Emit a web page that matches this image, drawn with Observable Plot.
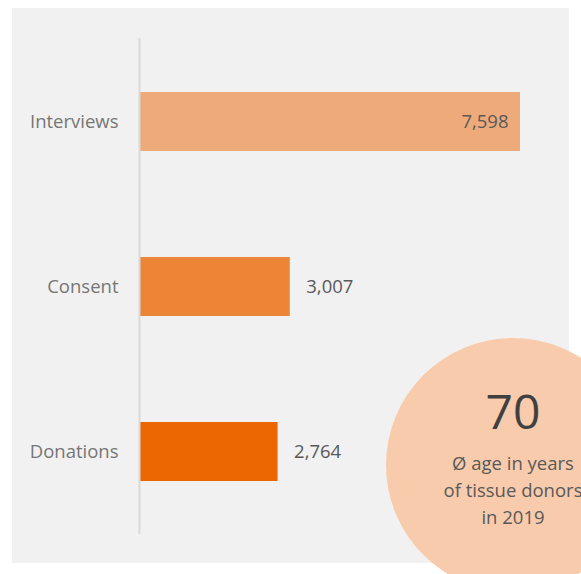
<!DOCTYPE html>
<html>
<head>
<meta charset="utf-8">
<script src="https://cdn.jsdelivr.net/npm/d3@7"></script>
<script src="https://cdn.jsdelivr.net/npm/@observablehq/plot@0.6"></script>
<style>
  html, body { margin: 0; padding: 0; background: #ffffff; }
  #chart { width: 581px; height: 574px; overflow: hidden; }
  svg { display: block; }
</style>
</head>
<body>
<div id="chart"></div>
<script>
// Data
const categories = ["Interviews", "Consent", "Donations"];
const values = [7598, 3007, 2764];
const barColors = ["#EEAA7B", "#ED8536", "#EC6602"];
const calloutValue = "70";
const calloutLines = ["Ø age in years", "of tissue donors", "in 2019"];

const data = categories.map((c, i) => ({category: c, value: values[i], color: barColors[i]}));
const fmt = d3.format(",");
const FONT = "'Open Sans', sans-serif";

const plot = Plot.plot({
  width: 581,
  height: 574,
  marginLeft: 139,
  marginRight: 61,
  marginTop: 38,
  marginBottom: 40,
  style: {fontFamily: FONT, background: "transparent", color: "#767676"},
  x: {domain: [0, 7598], axis: null},
  y: {domain: categories, paddingInner: 0.643, paddingOuter: 0.3215, label: null},
  marks: [
    Plot.barX(data, {x: "value", y: "category", fill: "color"}),
    Plot.ruleX([0], {stroke: "#D9D9D9", strokeWidth: 2}),
    Plot.axisY({tickSize: 0, tickPadding: 21, fontSize: 18.5, label: null}),
    Plot.text(data.filter(d => d.value > 5000), {
      x: "value", y: "category", text: d => fmt(d.value),
      textAnchor: "end", dx: -12, fill: "#595959", fontSize: 18.5
    }),
    Plot.text(data.filter(d => d.value <= 5000), {
      x: "value", y: "category", text: d => fmt(d.value),
      textAnchor: "start", dx: 16, fill: "#595959", fontSize: 18.5
    })
  ]
});

const svg = d3.select(plot);
// gray panel behind everything
svg.insert("rect", ":first-child")
  .attr("x", 12).attr("y", 8).attr("width", 557).attr("height", 555)
  .attr("fill", "#F1F1F1");
svg.insert("rect", ":first-child")
  .attr("width", 581).attr("height", 574).attr("fill", "#ffffff");

// callout circle
const g = svg.append("g");
g.append("circle").attr("cx", 513).attr("cy", 465).attr("r", 127).attr("fill", "#F8CBAD");
g.append("text").attr("x", 513).attr("y", 429).attr("text-anchor", "middle")
  .attr("font-family", FONT).attr("font-size", 48).attr("fill", "#404040").text(calloutValue);
calloutLines.forEach((t, i) => {
  g.append("text").attr("x", 513).attr("y", 470 + i * 27).attr("text-anchor", "middle")
    .attr("font-family", FONT).attr("font-size", 18.5).attr("fill", "#595959").text(t);
});

document.getElementById("chart").appendChild(plot);
</script>
</body>
</html>
